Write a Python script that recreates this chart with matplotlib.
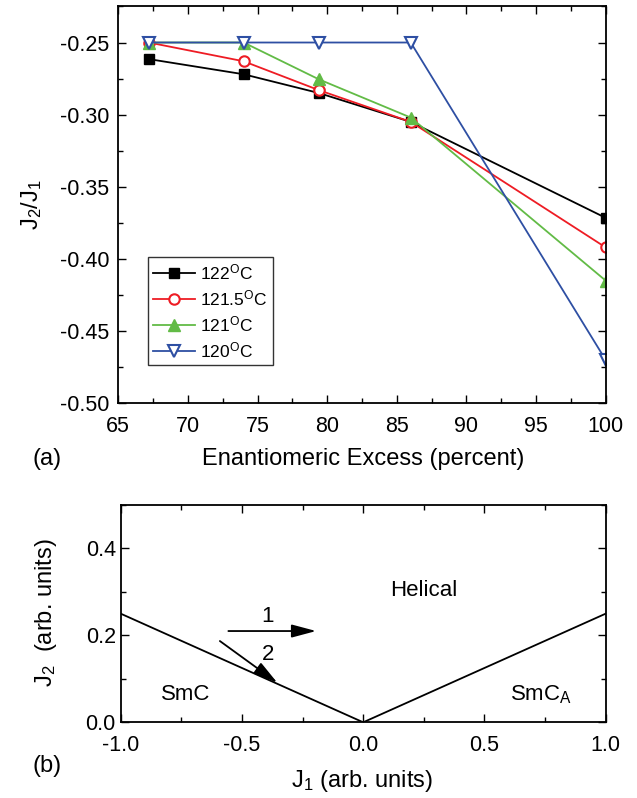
import matplotlib
matplotlib.use('Agg')
import matplotlib.pyplot as plt
from matplotlib.ticker import MultipleLocator, FormatStrFormatter

plt.rcParams['font.family'] = ['Liberation Sans', 'DejaVu Sans']
plt.rcParams['mathtext.fontset'] = 'custom'
plt.rcParams['mathtext.rm'] = 'Liberation Sans'
plt.rcParams['mathtext.it'] = 'Liberation Sans'
plt.rcParams['font.size'] = 15.5

W, H = 637, 798

# panel (a) data
excess = [67.2, 74.0, 79.4, 86.0, 100.0]
j_122 = [-0.2615, -0.272, -0.285, -0.305, -0.3715]
j_1215 = [-0.250, -0.263, -0.283, -0.305, -0.392]
j_121 = [-0.250, -0.250, -0.2755, -0.302, -0.415]
j_120 = [-0.250, -0.250, -0.250, -0.250, -0.470]
labels = [r'122$^{\mathrm{O}}$C', r'121.5$^{\mathrm{O}}$C',
          r'121$^{\mathrm{O}}$C', r'120$^{\mathrm{O}}$C']

# panel (b) phase boundary
bound_x = [-1.0, 0.0, 1.0]
bound_y = [0.25, 0.0, 0.25]


def px_box(left, top, right, bottom):
    return [left / W, 1 - bottom / H, (right - left) / W, (bottom - top) / H]


def style_axes(ax, ypad):
    ax.tick_params(which='both', direction='in', top=True, right=True, width=1)
    ax.tick_params(which='major', length=6)
    ax.tick_params(which='minor', length=3.5)
    ax.tick_params(axis='x', which='major', pad=9)
    ax.tick_params(axis='y', which='major', pad=ypad)
    for s in ax.spines.values():
        s.set_linewidth(1.3)


def place_label(axis, x, y):
    # put an axis label at a pixel position (centre) of the figure
    axis.set_label_coords(x / W, 1 - y / H, transform=fig.transFigure)
    axis.label.set_va('center')
    axis.label.set_ha('center')


fig = plt.figure(figsize=(W / 100, H / 100), dpi=100)

# ---- (a)
ax1 = fig.add_axes(px_box(118.3, 6, 605.7, 403.3))
ax1.plot(excess, j_122, '-s', color='black', ms=7, lw=1.3, label=labels[0])
ax1.plot(excess, j_1215, '-o', color='#ee1c24', mfc='white', mew=1.5, ms=7.5, lw=1.3, label=labels[1])
ax1.plot(excess, j_121, '-^', color='#62bb46', ms=8.5, lw=1.3, label=labels[2])
ax1.plot(excess, j_120, '-v', color='#2e4fa3', mfc='white', mew=1.5, ms=9, lw=1.3, label=labels[3])
ax1.set_xlim(65, 100)
ax1.set_ylim(-0.5, -0.2247)
ax1.xaxis.set_major_locator(MultipleLocator(5))
ax1.xaxis.set_minor_locator(MultipleLocator(2.5))
ax1.yaxis.set_major_locator(MultipleLocator(0.05))
ax1.yaxis.set_minor_locator(MultipleLocator(0.025))
ax1.yaxis.set_major_formatter(FormatStrFormatter('%.2f'))
style_axes(ax1, 6.5)
ax1.set_xlabel('Enantiomeric Excess (percent)', fontsize=17)
ax1.set_ylabel(r'J$_2$/J$_1$', fontsize=17)
place_label(ax1.xaxis, 363, 459)
place_label(ax1.yaxis, 32, 205)
leg = ax1.legend(loc='upper left', bbox_to_anchor=(0.061, 0.368), borderaxespad=0,
                 fancybox=False, edgecolor='black', fontsize=12.5, labelspacing=0.35,
                 handlelength=2.4, handletextpad=0.3, borderpad=0.3)
leg.get_frame().set_linewidth(1.0)
fig.text(47 / W, 1 - 459 / H, '(a)', ha='center', va='center', fontsize=17)

# ---- (b)
ax2 = fig.add_axes(px_box(120.7, 505, 605.7, 722.3))
ax2.plot(bound_x, bound_y, color='black', lw=1.3)
ax2.set_xlim(-1, 1)
ax2.set_ylim(0, 0.5)
ax2.xaxis.set_major_locator(MultipleLocator(0.5))
ax2.xaxis.set_minor_locator(MultipleLocator(0.25))
ax2.yaxis.set_major_locator(MultipleLocator(0.2))
ax2.yaxis.set_minor_locator(MultipleLocator(0.1))
ax2.xaxis.set_major_formatter(FormatStrFormatter('%.1f'))
ax2.yaxis.set_major_formatter(FormatStrFormatter('%.1f'))
style_axes(ax2, 3.5)
ax2.set_xlabel(r'J$_1$ (arb. units)', fontsize=17)
ax2.set_ylabel(r'J$_2$  (arb. units)', fontsize=17)
place_label(ax2.xaxis, 362, 781)
place_label(ax2.yaxis, 46, 613)

arrow = dict(arrowstyle='-|>,head_length=0.75,head_width=0.2', mutation_scale=20,
             color='black', lw=1.3, shrinkA=0, shrinkB=0)
ax2.annotate('', xy=(-0.194, 0.210), xytext=(-0.556, 0.210), arrowprops=arrow)
ax2.annotate('', xy=(-0.354, 0.091), xytext=(-0.591, 0.187), arrowprops=arrow)
ax2.text(-0.396, 0.243, '1', ha='center', va='center', fontsize=16)
ax2.text(-0.393, 0.157, '2', ha='center', va='center', fontsize=16)
ax2.text(0.249, 0.303, 'Helical', ha='center', va='center', fontsize=16)
ax2.text(-0.734, 0.064, 'SmC', ha='center', va='center', fontsize=16)
ax2.text(0.733, 0.064, r'SmC$_\mathrm{A}$', ha='center', va='center', fontsize=16)
fig.text(47 / W, 1 - 766 / H, '(b)', ha='center', va='center', fontsize=17)

fig.savefig('out.png', dpi=100)
